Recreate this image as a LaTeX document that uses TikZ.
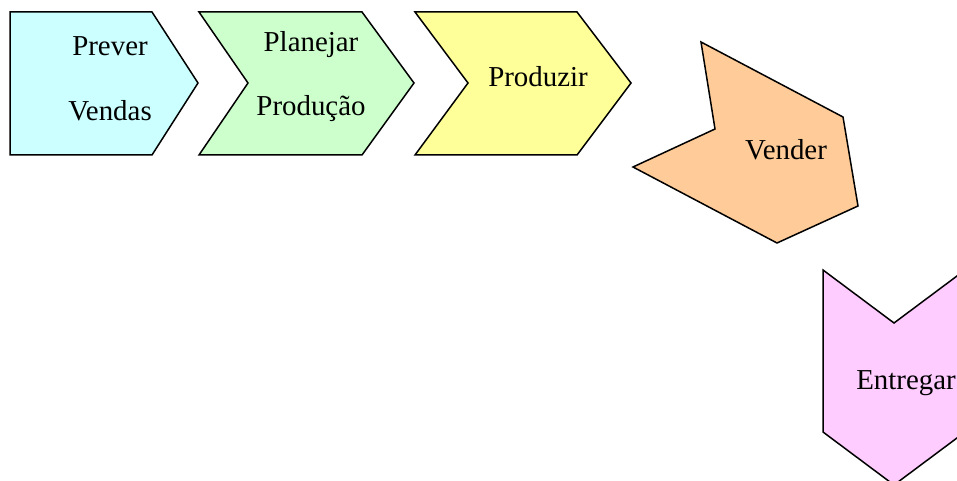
\documentclass[tikz,border=0pt]{standalone}
\usepackage{fontspec}
\setmainfont{Liberation Serif}
\definecolor{cCyan}{HTML}{CCFFFF}
\definecolor{cGreen}{HTML}{CCFFCC}
\definecolor{cYellow}{HTML}{FFFF99}
\definecolor{cOrange}{HTML}{FFCC99}
\definecolor{cPink}{HTML}{FFCCFF}
\tikzset{
  shapebox/.style={draw=black, line width=1.5bp, line join=miter},
  lbl/.style={font=\fontsize{29}{34}\selectfont, inner sep=0pt, anchor=center}
}
\begin{document}
\begin{tikzpicture}[x=1bp,y=-1bp]
\useasboundingbox (0,0) rectangle (957,481);
\clip (0,0) rectangle (957,481);
% Prever Vendas
\path[shapebox, fill=cCyan] (10,12) -- (152,12) -- (198,83) -- (152,155) -- (10,155) -- cycle;
\node[lbl] (prever) at (110,46) {Prever};
\node[lbl] (vendas) at (110,111) {Vendas};
% Planejar Producao
\path[shapebox, fill=cGreen] (199,12) -- (362,12) -- (414,83) -- (362,155) -- (199,155) -- (248,83) -- cycle;
\node[lbl] (planejar) at (311,45) {Planejar};
\node[lbl] (producao) at (311,109) {Produção};
% Produzir
\path[shapebox, fill=cYellow] (415,12) -- (577,12) -- (631,83) -- (577,155) -- (415,155) -- (468,83) -- cycle;
\node[lbl] (produzir) at (538,77) {Produzir};
% Vender
\path[shapebox, fill=cOrange] (701,42) -- (843,117) -- (858,206) -- (777,243) -- (633,167) -- (715,129) -- cycle;
\node[lbl] (vender) at (786,150) {Vender};
% Entregar
\path[shapebox, fill=cPink] (823,270) -- (894,323) -- (965,270) -- (965,432) -- (894,485) -- (823,432) -- cycle;
\node[lbl] (entregar) at (906,383) {Entregar};
\end{tikzpicture}
\end{document}
